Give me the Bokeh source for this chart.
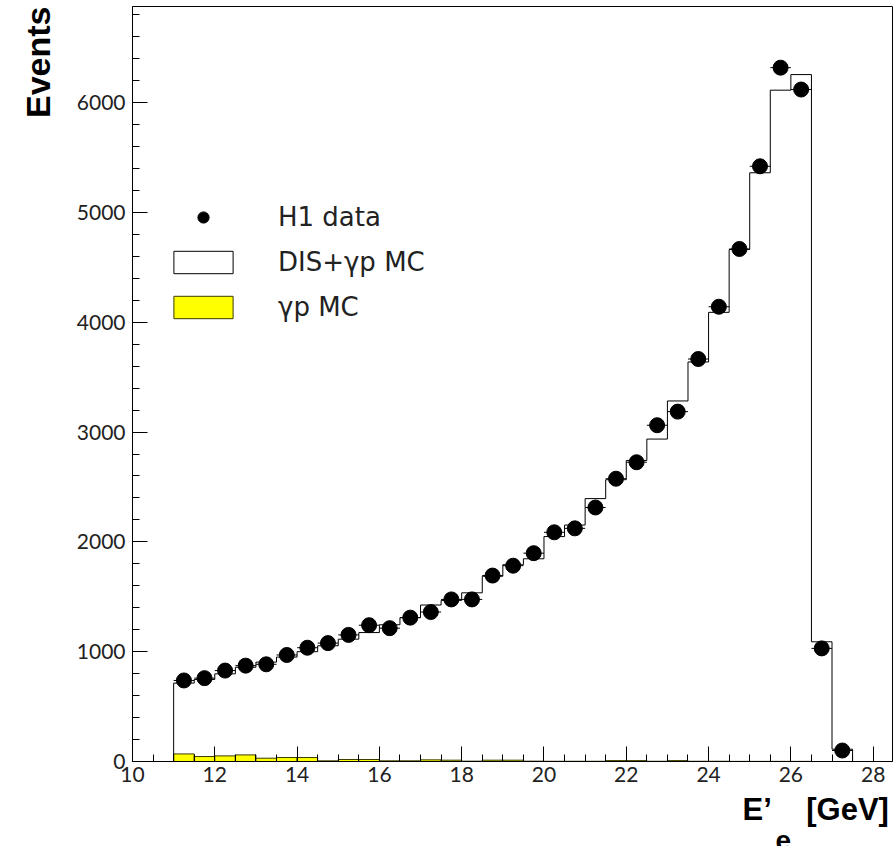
import numpy as np
from bokeh.plotting import figure
from bokeh.models import SingleIntervalTicker, Title, Legend, LegendItem, Range1d
from bokeh.embed import file_html
from bokeh.resources import INLINE

# ---- data ----
bin_lo = [11.0, 11.5, 12.0, 12.5, 13.0, 13.5, 14.0, 14.5, 15.0, 15.5, 16.0,
          16.5, 17.0, 17.5, 18.0, 18.5, 19.0, 19.5, 20.0, 20.5, 21.0, 21.5,
          22.0, 22.5, 23.0, 23.5, 24.0, 24.5, 25.0, 25.5, 26.0, 26.5, 27.0]
bin_width = 0.5

h1_data = [738, 759, 828, 873, 885, 970, 1036, 1078, 1153, 1241, 1214,
           1310, 1361, 1476, 1476, 1693, 1783, 1897, 2087, 2123, 2313, 2575,
           2725, 3062, 3186, 3665, 4141, 4667, 5420, 6318, 6119, 1030, 100]

mc_total = [714, 747, 798, 858, 905, 951, 1000, 1054, 1114, 1174, 1245,
            1310, 1425, 1467, 1536, 1687, 1792, 1846, 2048, 2153, 2394, 2566,
            2741, 2936, 3283, 3638, 4090, 4662, 5361, 6113, 6255, 1090, 112]

gp_mc = [69, 45, 51, 60, 30, 36, 36, 6, 18, 18, 6,
         6, 15, 12, 3, 12, 12, 3, 2, 2, 2, 8,
         8, 2, 8, 2, 2, 1, 1, 1, 1, 0, 0]

x_ticks_interval = 2
y_ticks_interval = 1000

bin_hi = [b + bin_width for b in bin_lo]
centers = [b + bin_width / 2 for b in bin_lo]

# step outline of total MC
step_x = [bin_lo[0]]
step_y = [0]
for lo, hi, v in zip(bin_lo, bin_hi, mc_total):
    step_x += [lo, hi]
    step_y += [v, v]
step_x.append(bin_hi[-1])
step_y.append(0)

W, H = 894, 846
p = figure(width=W, height=H, output_backend="svg", toolbar_location=None,
           x_range=Range1d(10, 28.47), y_range=Range1d(0, 6875),
           min_border_left=132, min_border_right=2, min_border_top=6,
           min_border_bottom=79)
p.grid.visible = False
p.outline_line_color = "black"
p.outline_line_width = 1
p.background_fill_color = "white"

# yellow gamma-p MC
gp_r = p.quad(left=bin_lo, right=bin_hi, bottom=0, top=gp_mc,
              fill_color="#ffff00", line_color="#3a3a00", line_width=1)
# total MC outline
p.line(step_x, step_y, line_color="black", line_width=1)
mc_leg = p.quad(left=[np.nan], right=[np.nan], bottom=[np.nan], top=[np.nan],
                fill_color="white", line_color="black", line_width=1)
# data
p.segment(x0=bin_lo, x1=bin_hi, y0=h1_data, y1=h1_data, line_color="black", line_width=1)
data_r = p.scatter(x=centers, y=h1_data, size=15, fill_color="black", line_color="black")

tick_font = "Lato"
for ax, interval, nminor in ((p.xaxis[0], x_ticks_interval, 4), (p.yaxis[0], y_ticks_interval, 5)):
    ax.ticker = SingleIntervalTicker(interval=interval, num_minor_ticks=nminor)
    ax.major_tick_in = 15
    ax.major_tick_out = 0
    ax.minor_tick_in = 7
    ax.minor_tick_out = 0
    ax.axis_line_color = "black"
    ax.major_tick_line_color = "black"
    ax.minor_tick_line_color = "black"
    ax.major_label_text_font = tick_font
    ax.major_label_text_font_size = "21px"
    ax.major_label_text_color = "#222222"
p.yaxis.major_label_standoff = 7
p.xaxis.major_label_standoff = 5

legend = Legend(items=[LegendItem(label="H1 data", renderers=[data_r]),
                       LegendItem(label="DIS+\u03b3p MC", renderers=[mc_leg]),
                       LegendItem(label="\u03b3p MC", renderers=[gp_r])],
                location=(34, 439), glyph_width=74, glyph_height=28,
                label_height=28, spacing=15, label_standoff=38,
                padding=0, margin=0, border_line_alpha=0,
                background_fill_alpha=0, label_text_font="DejaVu Sans",
                label_text_font_size="26px", label_text_color="#222222")
p.add_layout(legend, "center")

title_font = "Liberation Sans"
# y-axis title (outside the frame, at the top of the left side)
p.add_layout(Title(text="Events", align="right", standoff=30, vertical_align="top",
                   text_font=title_font, text_font_style="bold",
                   text_font_size="34px", text_color="black"), "left")
# x-axis title, with a lowered subscript e
p.add_layout(Title(text="E\u2019\u00a0\u00a0\u00a0\u00a0[GeV]", align="left", offset=610, standoff=10,
                   text_font=title_font, text_font_style="bold",
                   text_font_size="31px", text_color="black"), "below")
p.add_layout(Title(text="e", align="left", offset=643, standoff=-6,
                   text_font=title_font, text_font_style="bold",
                   text_font_size="28px", text_color="black"), "below")

open("out.html", "w").write(file_html(p, INLINE))
